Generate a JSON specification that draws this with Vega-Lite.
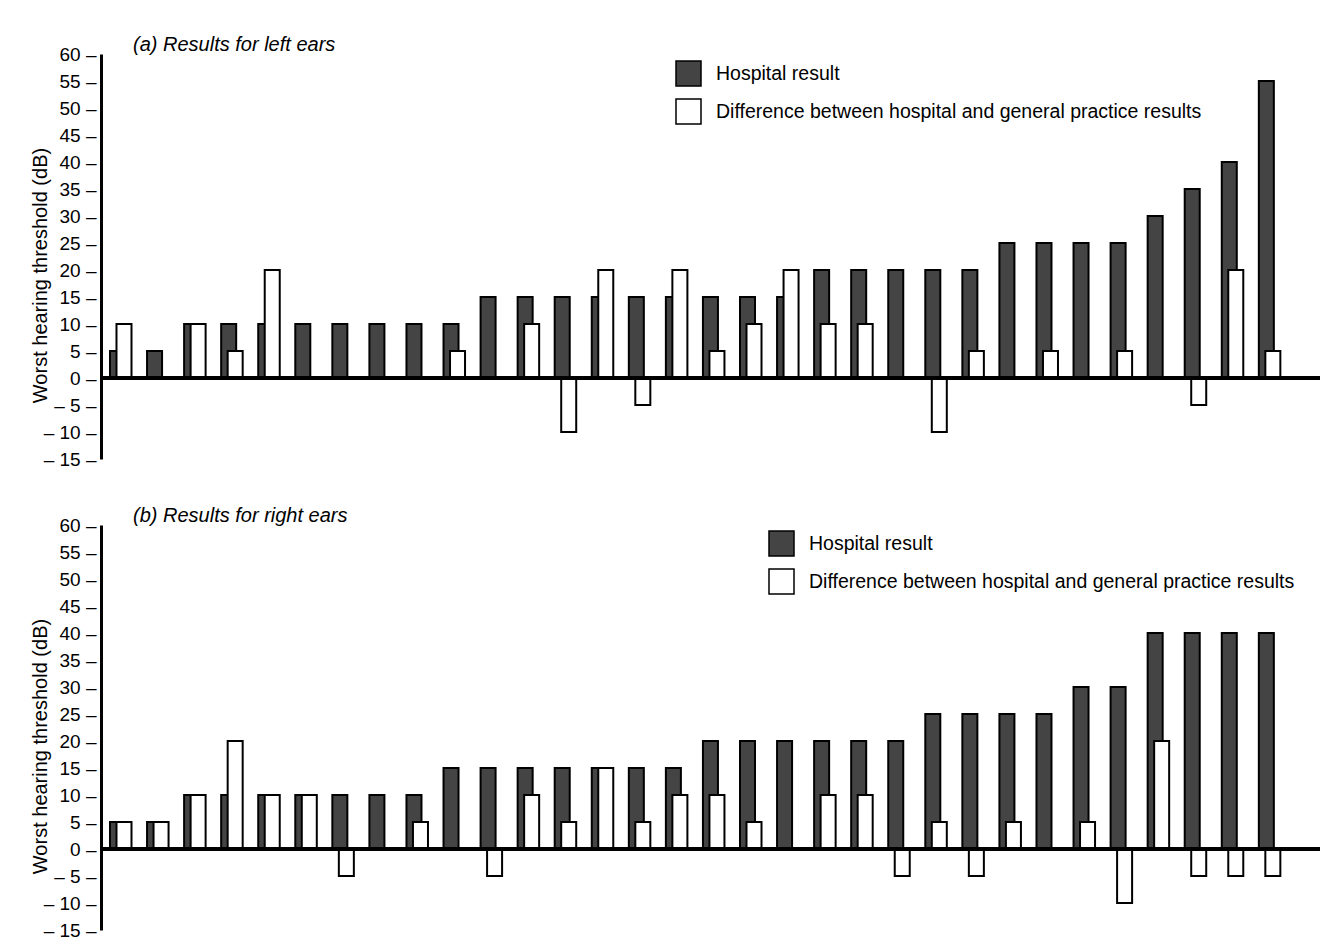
{
  "$schema": "https://vega.github.io/schema/vega-lite/v6.json",
  "padding": {"left": 30, "top": 35, "right": 5, "bottom": 5},
  "background": "white",
  "config": {
    "view": {"stroke": null},
    "font": "Liberation Sans",
    "axis": {"labelColor": "black", "titleColor": "black"}
  },
  "datasets": {
    "left": [
      {"pair": 1, "series": "Hospital result", "value": 5},
      {"pair": 2, "series": "Hospital result", "value": 5},
      {"pair": 3, "series": "Hospital result", "value": 10},
      {"pair": 4, "series": "Hospital result", "value": 10},
      {"pair": 5, "series": "Hospital result", "value": 10},
      {"pair": 6, "series": "Hospital result", "value": 10},
      {"pair": 7, "series": "Hospital result", "value": 10},
      {"pair": 8, "series": "Hospital result", "value": 10},
      {"pair": 9, "series": "Hospital result", "value": 10},
      {"pair": 10, "series": "Hospital result", "value": 10},
      {"pair": 11, "series": "Hospital result", "value": 15},
      {"pair": 12, "series": "Hospital result", "value": 15},
      {"pair": 13, "series": "Hospital result", "value": 15},
      {"pair": 14, "series": "Hospital result", "value": 15},
      {"pair": 15, "series": "Hospital result", "value": 15},
      {"pair": 16, "series": "Hospital result", "value": 15},
      {"pair": 17, "series": "Hospital result", "value": 15},
      {"pair": 18, "series": "Hospital result", "value": 15},
      {"pair": 19, "series": "Hospital result", "value": 15},
      {"pair": 20, "series": "Hospital result", "value": 20},
      {"pair": 21, "series": "Hospital result", "value": 20},
      {"pair": 22, "series": "Hospital result", "value": 20},
      {"pair": 23, "series": "Hospital result", "value": 20},
      {"pair": 24, "series": "Hospital result", "value": 20},
      {"pair": 25, "series": "Hospital result", "value": 25},
      {"pair": 26, "series": "Hospital result", "value": 25},
      {"pair": 27, "series": "Hospital result", "value": 25},
      {"pair": 28, "series": "Hospital result", "value": 25},
      {"pair": 29, "series": "Hospital result", "value": 30},
      {"pair": 30, "series": "Hospital result", "value": 35},
      {"pair": 31, "series": "Hospital result", "value": 40},
      {"pair": 32, "series": "Hospital result", "value": 55},
      {"pair": 1, "series": "Difference between hospital and general practice results", "value": 10},
      {"pair": 2, "series": "Difference between hospital and general practice results", "value": 0},
      {"pair": 3, "series": "Difference between hospital and general practice results", "value": 10},
      {"pair": 4, "series": "Difference between hospital and general practice results", "value": 5},
      {"pair": 5, "series": "Difference between hospital and general practice results", "value": 20},
      {"pair": 6, "series": "Difference between hospital and general practice results", "value": 0},
      {"pair": 7, "series": "Difference between hospital and general practice results", "value": 0},
      {"pair": 8, "series": "Difference between hospital and general practice results", "value": 0},
      {"pair": 9, "series": "Difference between hospital and general practice results", "value": 0},
      {"pair": 10, "series": "Difference between hospital and general practice results", "value": 5},
      {"pair": 11, "series": "Difference between hospital and general practice results", "value": 0},
      {"pair": 12, "series": "Difference between hospital and general practice results", "value": 10},
      {"pair": 13, "series": "Difference between hospital and general practice results", "value": -10},
      {"pair": 14, "series": "Difference between hospital and general practice results", "value": 20},
      {"pair": 15, "series": "Difference between hospital and general practice results", "value": -5},
      {"pair": 16, "series": "Difference between hospital and general practice results", "value": 20},
      {"pair": 17, "series": "Difference between hospital and general practice results", "value": 5},
      {"pair": 18, "series": "Difference between hospital and general practice results", "value": 10},
      {"pair": 19, "series": "Difference between hospital and general practice results", "value": 20},
      {"pair": 20, "series": "Difference between hospital and general practice results", "value": 10},
      {"pair": 21, "series": "Difference between hospital and general practice results", "value": 10},
      {"pair": 22, "series": "Difference between hospital and general practice results", "value": 0},
      {"pair": 23, "series": "Difference between hospital and general practice results", "value": -10},
      {"pair": 24, "series": "Difference between hospital and general practice results", "value": 5},
      {"pair": 25, "series": "Difference between hospital and general practice results", "value": 0},
      {"pair": 26, "series": "Difference between hospital and general practice results", "value": 5},
      {"pair": 27, "series": "Difference between hospital and general practice results", "value": 0},
      {"pair": 28, "series": "Difference between hospital and general practice results", "value": 5},
      {"pair": 29, "series": "Difference between hospital and general practice results", "value": 0},
      {"pair": 30, "series": "Difference between hospital and general practice results", "value": -5},
      {"pair": 31, "series": "Difference between hospital and general practice results", "value": 20},
      {"pair": 32, "series": "Difference between hospital and general practice results", "value": 5}
    ],
    "right": [
      {"pair": 1, "series": "Hospital result", "value": 5},
      {"pair": 2, "series": "Hospital result", "value": 5},
      {"pair": 3, "series": "Hospital result", "value": 10},
      {"pair": 4, "series": "Hospital result", "value": 10},
      {"pair": 5, "series": "Hospital result", "value": 10},
      {"pair": 6, "series": "Hospital result", "value": 10},
      {"pair": 7, "series": "Hospital result", "value": 10},
      {"pair": 8, "series": "Hospital result", "value": 10},
      {"pair": 9, "series": "Hospital result", "value": 10},
      {"pair": 10, "series": "Hospital result", "value": 15},
      {"pair": 11, "series": "Hospital result", "value": 15},
      {"pair": 12, "series": "Hospital result", "value": 15},
      {"pair": 13, "series": "Hospital result", "value": 15},
      {"pair": 14, "series": "Hospital result", "value": 15},
      {"pair": 15, "series": "Hospital result", "value": 15},
      {"pair": 16, "series": "Hospital result", "value": 15},
      {"pair": 17, "series": "Hospital result", "value": 20},
      {"pair": 18, "series": "Hospital result", "value": 20},
      {"pair": 19, "series": "Hospital result", "value": 20},
      {"pair": 20, "series": "Hospital result", "value": 20},
      {"pair": 21, "series": "Hospital result", "value": 20},
      {"pair": 22, "series": "Hospital result", "value": 20},
      {"pair": 23, "series": "Hospital result", "value": 25},
      {"pair": 24, "series": "Hospital result", "value": 25},
      {"pair": 25, "series": "Hospital result", "value": 25},
      {"pair": 26, "series": "Hospital result", "value": 25},
      {"pair": 27, "series": "Hospital result", "value": 30},
      {"pair": 28, "series": "Hospital result", "value": 30},
      {"pair": 29, "series": "Hospital result", "value": 40},
      {"pair": 30, "series": "Hospital result", "value": 40},
      {"pair": 31, "series": "Hospital result", "value": 40},
      {"pair": 32, "series": "Hospital result", "value": 40},
      {"pair": 1, "series": "Difference between hospital and general practice results", "value": 5},
      {"pair": 2, "series": "Difference between hospital and general practice results", "value": 5},
      {"pair": 3, "series": "Difference between hospital and general practice results", "value": 10},
      {"pair": 4, "series": "Difference between hospital and general practice results", "value": 20},
      {"pair": 5, "series": "Difference between hospital and general practice results", "value": 10},
      {"pair": 6, "series": "Difference between hospital and general practice results", "value": 10},
      {"pair": 7, "series": "Difference between hospital and general practice results", "value": -5},
      {"pair": 8, "series": "Difference between hospital and general practice results", "value": 0},
      {"pair": 9, "series": "Difference between hospital and general practice results", "value": 5},
      {"pair": 10, "series": "Difference between hospital and general practice results", "value": 0},
      {"pair": 11, "series": "Difference between hospital and general practice results", "value": -5},
      {"pair": 12, "series": "Difference between hospital and general practice results", "value": 10},
      {"pair": 13, "series": "Difference between hospital and general practice results", "value": 5},
      {"pair": 14, "series": "Difference between hospital and general practice results", "value": 15},
      {"pair": 15, "series": "Difference between hospital and general practice results", "value": 5},
      {"pair": 16, "series": "Difference between hospital and general practice results", "value": 10},
      {"pair": 17, "series": "Difference between hospital and general practice results", "value": 10},
      {"pair": 18, "series": "Difference between hospital and general practice results", "value": 5},
      {"pair": 19, "series": "Difference between hospital and general practice results", "value": 0},
      {"pair": 20, "series": "Difference between hospital and general practice results", "value": 10},
      {"pair": 21, "series": "Difference between hospital and general practice results", "value": 10},
      {"pair": 22, "series": "Difference between hospital and general practice results", "value": -5},
      {"pair": 23, "series": "Difference between hospital and general practice results", "value": 5},
      {"pair": 24, "series": "Difference between hospital and general practice results", "value": -5},
      {"pair": 25, "series": "Difference between hospital and general practice results", "value": 5},
      {"pair": 26, "series": "Difference between hospital and general practice results", "value": 0},
      {"pair": 27, "series": "Difference between hospital and general practice results", "value": 5},
      {"pair": 28, "series": "Difference between hospital and general practice results", "value": -10},
      {"pair": 29, "series": "Difference between hospital and general practice results", "value": 20},
      {"pair": 30, "series": "Difference between hospital and general practice results", "value": -5},
      {"pair": 31, "series": "Difference between hospital and general practice results", "value": -5},
      {"pair": 32, "series": "Difference between hospital and general practice results", "value": -5}
    ]
  },
  "spacing": 37,
  "resolve": {"scale": {"color": "independent"}, "legend": {"color": "independent"}},
  "vconcat": [
    {
      "data": {"name": "left"},
      "width": 1219,
      "height": 405,
      "title": {"text": "(a) Results for left ears", "anchor": "start", "frame": "group", "dx": 32, "offset": -10, "fontSize": 20, "fontStyle": "italic", "fontWeight": "normal", "font": "Liberation Sans", "color": "black"},
      "encoding": {
        "x": {"field": "pair", "type": "ordinal", "axis": null, "scale": {"paddingInner": 0.595, "paddingOuter": 0.744, "align": 0.163}},
        "y": {"field": "value", "type": "quantitative", "scale": {"domain": [-15, 60], "nice": false},
          "axis": {"values": [-15, -10, -5, 0, 5, 10, 15, 20, 25, 30, 35, 40, 45, 50, 55, 60], "labelExpr": "(datum.value < 0 ? '– ' + abs(datum.value) : datum.value) + ' –'", "ticks": false, "grid": false, "domainWidth": 3, "domainColor": "black", "labelFontSize": 19, "labelPadding": 5, "title": "Worst hearing threshold (dB)", "titleFontSize": 20, "titleFontWeight": "normal", "titlePadding": -7, "titleY": 221}},
        "color": {"field": "series", "type": "nominal", "scale": {"domain": ["Hospital result", "Difference between hospital and general practice results"], "range": ["#444444", "#ffffff"]},
          "legend": {"orient": "none", "legendX": 574, "legendY": 6, "title": null, "symbolType": "square", "symbolSize": 625, "symbolStrokeColor": "black", "symbolStrokeWidth": 1.5, "labelFontSize": 19.5, "labelColor": "black", "labelOffset": 14, "labelLimit": 1000, "rowPadding": 7}}
      },
      "layer": [
        {"transform": [{"filter": "datum.series === 'Hospital result'"}], "mark": {"type": "bar", "stroke": "black", "strokeWidth": 2}},
        {"transform": [{"filter": "datum.series !== 'Hospital result' && datum.value !== 0"}], "mark": {"type": "bar", "stroke": "black", "strokeWidth": 2, "xOffset": 6.5}},
        {"mark": {"type": "rule", "strokeWidth": 3, "color": "black"}, "encoding": {"x": null, "color": null, "y": {"datum": 0, "type": "quantitative"}}}
      ]
    },
    {
      "data": {"name": "right"},
      "width": 1219,
      "height": 405,
      "title": {"text": "(b) Results for right ears", "anchor": "start", "frame": "group", "dx": 32, "offset": -10, "fontSize": 20, "fontStyle": "italic", "fontWeight": "normal", "font": "Liberation Sans", "color": "black"},
      "encoding": {
        "x": {"field": "pair", "type": "ordinal", "axis": null, "scale": {"paddingInner": 0.595, "paddingOuter": 0.744, "align": 0.163}},
        "y": {"field": "value", "type": "quantitative", "scale": {"domain": [-15, 60], "nice": false},
          "axis": {"values": [-15, -10, -5, 0, 5, 10, 15, 20, 25, 30, 35, 40, 45, 50, 55, 60], "labelExpr": "(datum.value < 0 ? '– ' + abs(datum.value) : datum.value) + ' –'", "ticks": false, "grid": false, "domainWidth": 3, "domainColor": "black", "labelFontSize": 19, "labelPadding": 5, "title": "Worst hearing threshold (dB)", "titleFontSize": 20, "titleFontWeight": "normal", "titlePadding": -7, "titleY": 221}},
        "color": {"field": "series", "type": "nominal", "scale": {"domain": ["Hospital result", "Difference between hospital and general practice results"], "range": ["#444444", "#ffffff"]},
          "legend": {"orient": "none", "legendX": 667, "legendY": 5, "title": null, "symbolType": "square", "symbolSize": 625, "symbolStrokeColor": "black", "symbolStrokeWidth": 1.5, "labelFontSize": 19.5, "labelColor": "black", "labelOffset": 14, "labelLimit": 1000, "rowPadding": 7}}
      },
      "layer": [
        {"transform": [{"filter": "datum.series === 'Hospital result'"}], "mark": {"type": "bar", "stroke": "black", "strokeWidth": 2}},
        {"transform": [{"filter": "datum.series !== 'Hospital result' && datum.value !== 0"}], "mark": {"type": "bar", "stroke": "black", "strokeWidth": 2, "xOffset": 6.5}},
        {"mark": {"type": "rule", "strokeWidth": 3, "color": "black"}, "encoding": {"x": null, "color": null, "y": {"datum": 0, "type": "quantitative"}}}
      ]
    }
  ]
}
